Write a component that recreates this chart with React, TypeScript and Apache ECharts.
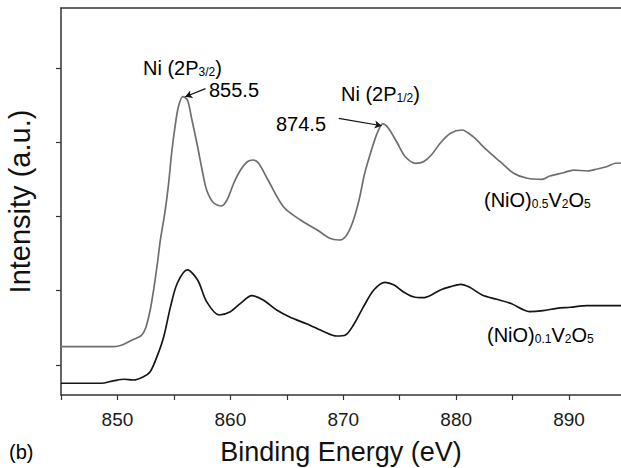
import React, { useEffect, useRef } from "react";
import * as echarts from "echarts";

// Binding energy (eV) and intensity (a.u., tick spacing = 1)
const nio05Energy = [845.0, 849.7, 850.4, 851.3, 852.1, 852.5, 852.9, 853.2, 853.5, 853.8, 854.2, 854.5, 854.8, 855.1, 855.4, 855.8, 856.2, 856.6, 857.1, 857.5, 857.9, 858.5, 859.2, 859.7, 860.3, 860.9, 861.5, 862.0, 862.5, 863.3, 864.7, 866.2, 867.7, 868.8, 869.6, 870.2, 870.8, 871.4, 871.9, 872.5, 873.0, 873.5, 874.0, 874.8, 875.5, 876.4, 877.1, 877.8, 878.6, 879.5, 880.5, 881.5, 882.7, 883.9, 885.1, 886.3, 887.6, 888.3, 889.5, 890.4, 891.6, 892.5, 893.3, 894.1, 894.6];
const nio05Intensity = [0.246, 0.246, 0.269, 0.336, 0.394, 0.498, 0.74, 1.009, 1.323, 1.682, 2.05, 2.4, 2.853, 3.207, 3.476, 3.611, 3.567, 3.297, 2.938, 2.624, 2.355, 2.184, 2.14, 2.221, 2.446, 2.624, 2.736, 2.759, 2.715, 2.5, 2.131, 1.952, 1.817, 1.705, 1.682, 1.727, 1.907, 2.221, 2.58, 2.894, 3.118, 3.244, 3.186, 2.984, 2.803, 2.715, 2.736, 2.826, 2.988, 3.118, 3.163, 3.073, 2.894, 2.736, 2.58, 2.513, 2.499, 2.544, 2.588, 2.624, 2.611, 2.638, 2.669, 2.715, 2.719];

const nio01Energy = [845.0, 848.5, 849.7, 850.6, 851.4, 852.3, 852.9, 853.5, 854.1, 854.7, 855.3, 856.2, 857.1, 857.9, 859.0, 860.0, 860.9, 861.9, 862.9, 864.1, 865.3, 866.8, 868.3, 869.4, 870.2, 870.9, 871.8, 872.7, 873.7, 874.5, 875.3, 876.2, 877.1, 877.8, 878.6, 879.5, 880.4, 881.2, 882.3, 883.6, 884.8, 886.0, 886.5, 887.7, 888.9, 890.1, 891.6, 893.0, 894.6];
const nio01Intensity = [-0.246, -0.246, -0.211, -0.192, -0.202, -0.157, -0.09, 0.112, 0.381, 0.785, 1.1, 1.279, 1.144, 0.852, 0.673, 0.717, 0.83, 0.933, 0.875, 0.74, 0.642, 0.552, 0.448, 0.39, 0.404, 0.538, 0.785, 1.009, 1.113, 1.077, 0.987, 0.919, 0.906, 0.942, 1.009, 1.054, 1.086, 1.046, 0.942, 0.884, 0.83, 0.74, 0.717, 0.731, 0.763, 0.777, 0.798, 0.798, 0.798];

const xTicks = [845, 850, 855, 860, 865, 870, 875, 880, 885, 890];
const xLabels = [850, 860, 870, 880, 890];
const yTicks = [0, 1, 2, 3, 4];

// peak annotation arrows: [from, to] in data coordinates
const peak32Arrow = [[857.8, 3.72], [856.0, 3.61]];
const peak12Arrow = [[869.6, 3.32], [873.4, 3.22]];

const FONT = "'Liberation Sans', Arial, Helvetica, sans-serif";

const zip = (a: number[], b: number[]) => a.map((v, i) => [v, b[i]]);

export default function App() {
  const ref = useRef<HTMLDivElement>(null);
  useEffect(() => {
    if (!ref.current) return;
    const chart = echarts.init(ref.current, null, { renderer: "svg" });
    const main = { fontSize: 20, lineHeight: 20, fontFamily: FONT, color: "#111" };
    const sub = { fontSize: 12, lineHeight: 12, fontFamily: FONT, color: "#111", verticalAlign: "bottom" };
    const gmain = { ...main, color: "#6e6e6e" };
    const gsub = { ...sub, color: "#6e6e6e" };
    const txt = (x: number, y: number, text: string, rich: any) => ({
      type: "text",
      x,
      y,
      silent: true,
      style: { text, rich, verticalAlign: "top", align: "left" },
    });
    const rich = { a: main, s: sub };
    const grich = { a: gmain, s: gsub };
    const arrow = (pts: number[][]) => ({
      silent: true,
      symbol: ["none", "arrow"],
      symbolSize: [6, 7],
      label: { show: false },
      lineStyle: { color: "#111", width: 1.2, type: "solid" },
      emphasis: { disabled: true },
      data: [[{ coord: pts[0] }, { coord: pts[1] }]],
    });
    chart.setOption({
      animation: false,
      grid: { left: 61, right: 0, top: 8, bottom: 73, outerBoundsMode: "none" },
      xAxis: [
        {
          type: "value",
          min: 845,
          max: 894.6,
          axisLine: { show: true, onZero: false, lineStyle: { color: "#333", width: 1.5 } },
          axisTick: { show: true, length: 5, customValues: xTicks, lineStyle: { color: "#333", width: 1.2 } },
          axisLabel: { show: true, customValues: xLabels, margin: 15, fontSize: 19, color: "#1a1a1a", fontFamily: FONT },
          splitLine: { show: false },
          name: "Binding Energy (eV)",
          nameLocation: "middle",
          nameGap: 43,
          nameTextStyle: { fontSize: 27, color: "#111", fontFamily: FONT },
        },
        {
          type: "value",
          position: "top",
          min: 845,
          max: 894.6,
          axisLine: { show: true, onZero: false, lineStyle: { color: "#333", width: 1.5 } },
          axisTick: { show: false },
          axisLabel: { show: false },
          splitLine: { show: false },
        },
      ],
      yAxis: {
        type: "value",
        min: -0.404,
        max: 4.805,
        axisLine: { show: true, onZero: false, lineStyle: { color: "#333", width: 1.5 } },
        axisTick: { show: true, length: 5, customValues: yTicks, lineStyle: { color: "#333", width: 1.2 } },
        axisLabel: { show: false },
        splitLine: { show: false },
        name: "Intensity (a.u.)",
        nameLocation: "middle",
        nameGap: 27,
        nameTextStyle: { fontSize: 29, color: "#111", fontFamily: FONT },
      },
      series: [
        {
          type: "line",
          name: "(NiO)0.5V2O5",
          data: zip(nio05Energy, nio05Intensity),
          symbol: "none",
          smooth: 0.3,
          lineStyle: { color: "#6e6e6e", width: 1.7 },
          markLine: arrow(peak32Arrow),
        },
        {
          type: "line",
          name: "(NiO)0.1V2O5",
          data: zip(nio01Energy, nio01Intensity),
          symbol: "none",
          smooth: 0.3,
          lineStyle: { color: "#151515", width: 1.7 },
          markLine: arrow(peak12Arrow),
        },
      ],
      graphic: [
        txt(143, 58, "{a|Ni (2P}{s|3/2}{a|)}", rich),
        txt(209, 79.5, "{a|855.5}", rich),
        txt(341, 83.5, "{a|Ni (2P}{s|1/2}{a|)}", rich),
        txt(276, 114, "{a|874.5}", rich),
        txt(484, 190, "{a|(NiO)}{s|0.5}{a|V}{s|2}{a|O}{s|5}", grich),
        txt(487, 325, "{a|(NiO)}{s|0.1}{a|V}{s|2}{a|O}{s|5}", rich),
        txt(9, 441.5, "{a|(b)}", rich),
      ],
    });
    return () => chart.dispose();
  }, []);
  return (
    <div
      ref={ref}
      style={{ position: "fixed", left: 0, top: 0, width: 621, height: 468, background: "#fff" }}
    />
  );
}
